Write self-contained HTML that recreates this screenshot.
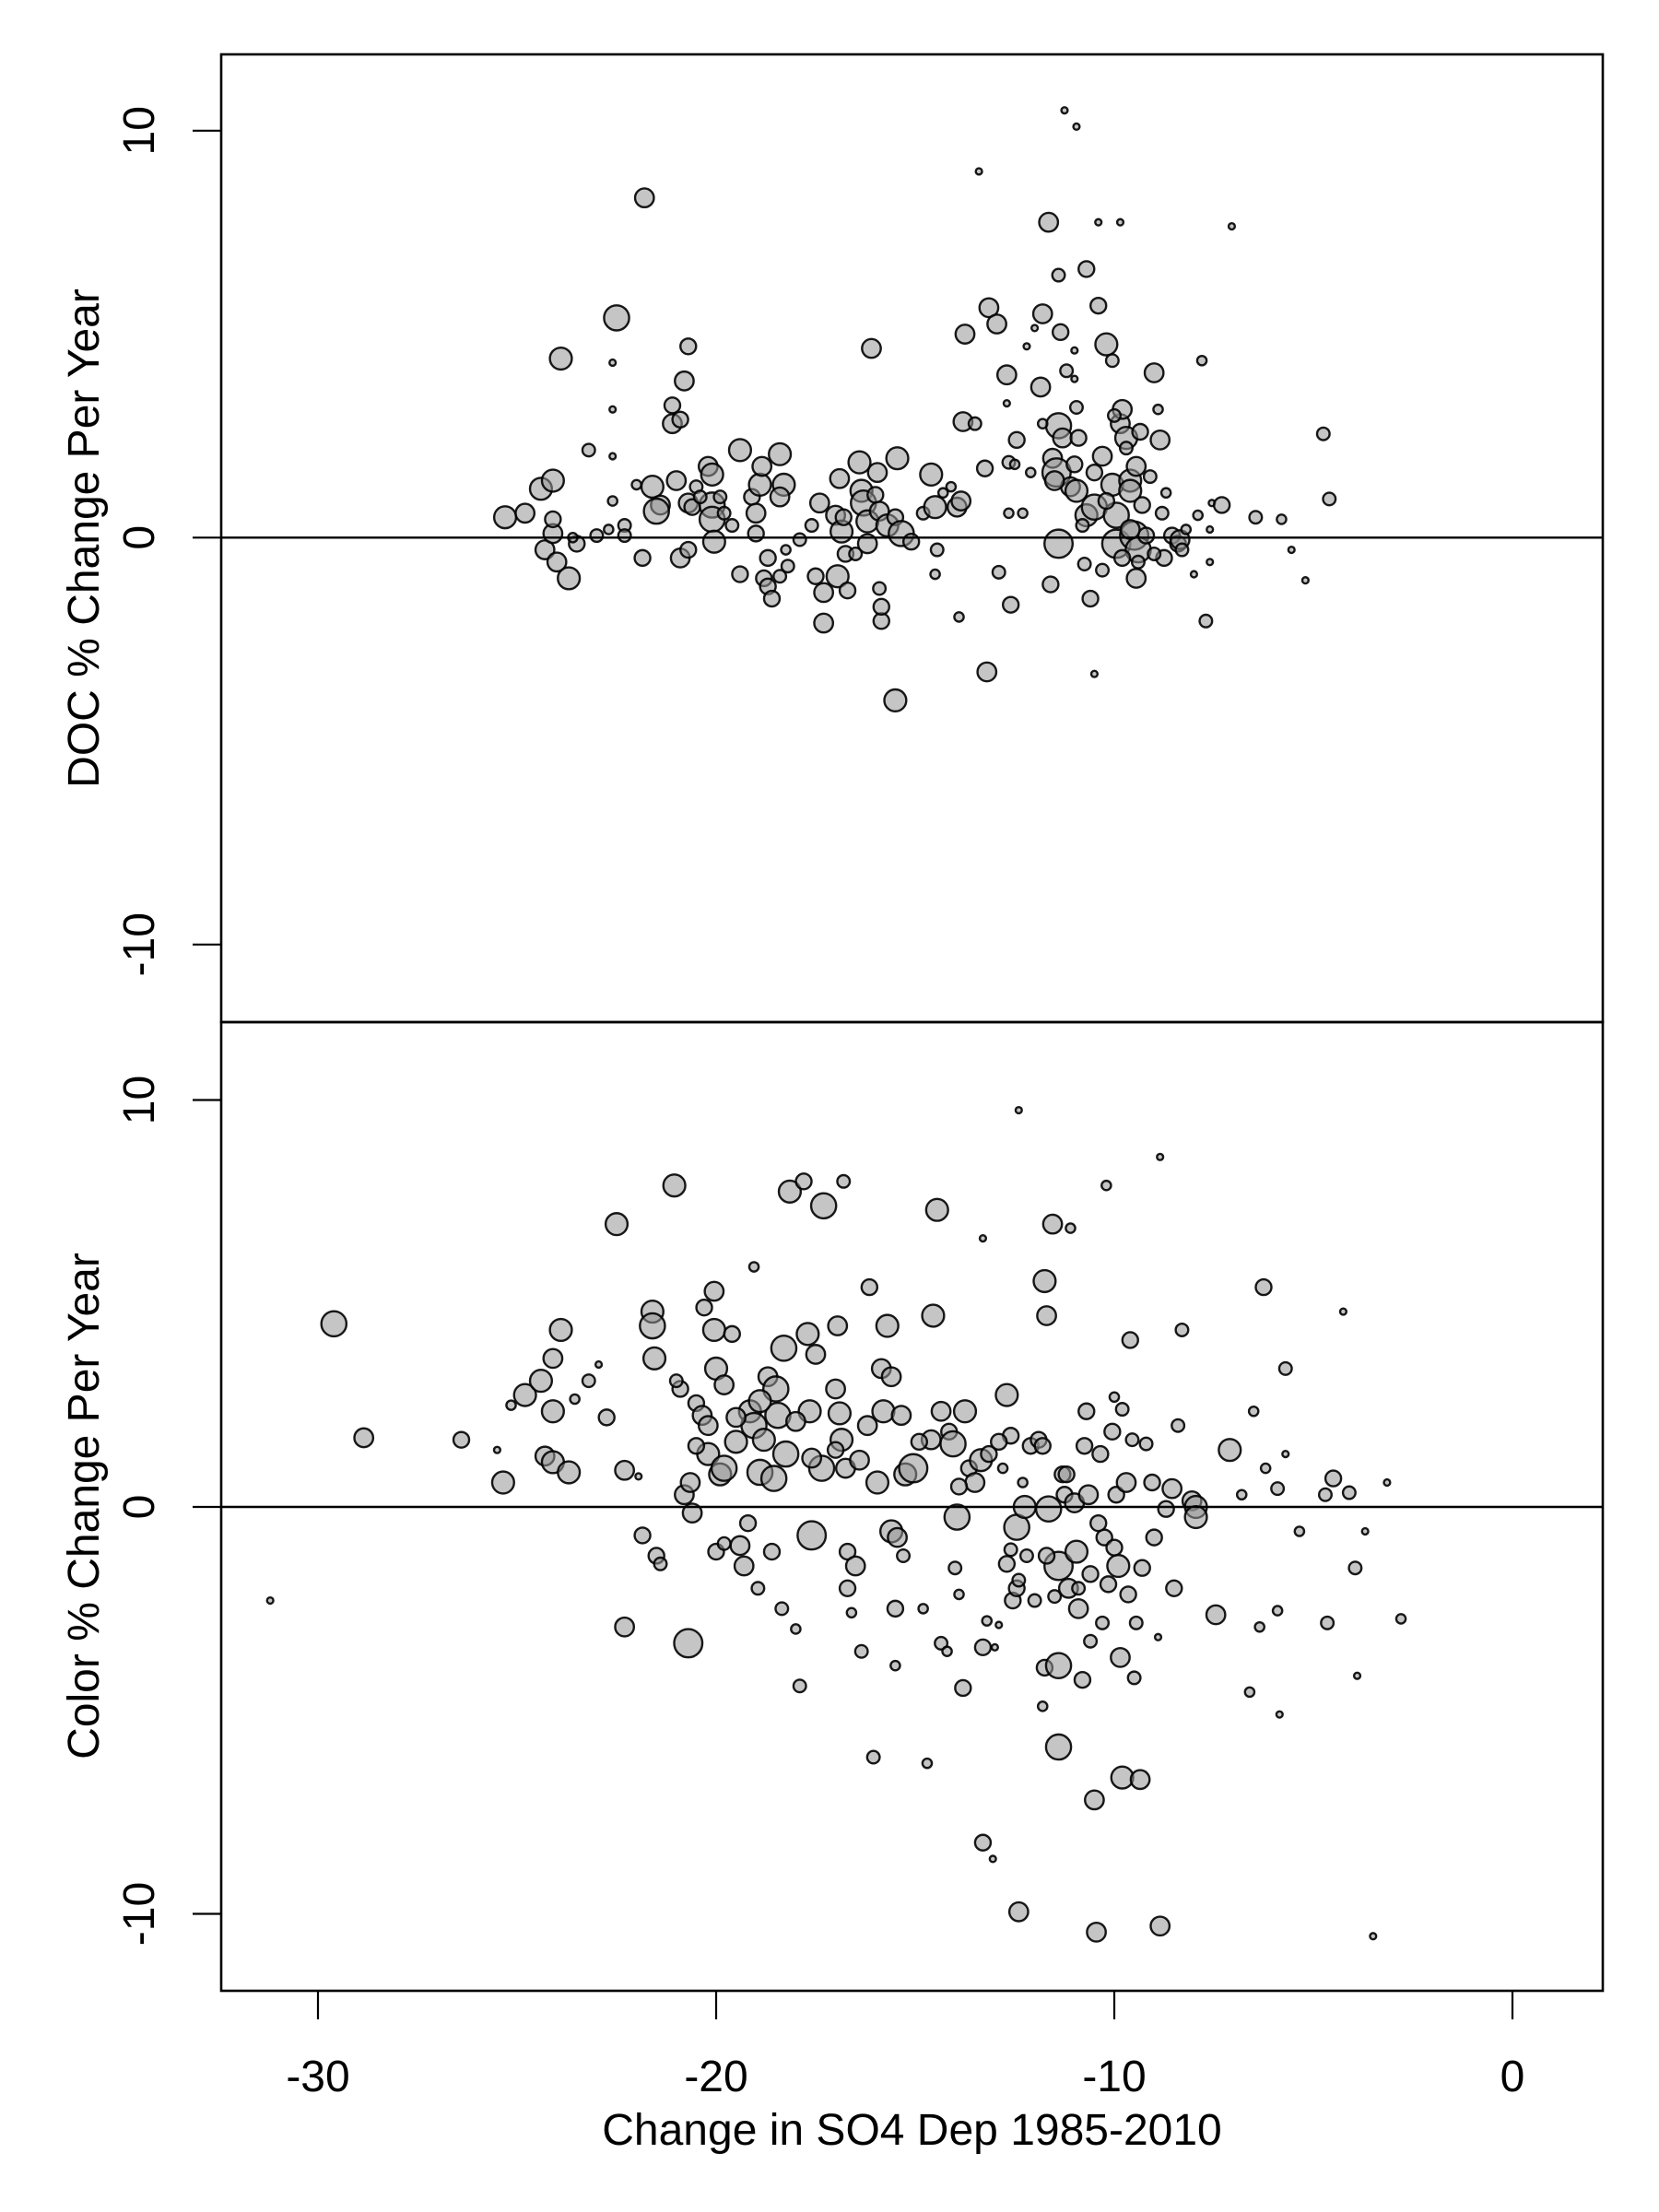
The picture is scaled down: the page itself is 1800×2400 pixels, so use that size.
<!DOCTYPE html>
<html><head><meta charset="utf-8"><title>DOC and Color change vs SO4 deposition change</title>
<style>
html,body{margin:0;padding:0;background:#fff;}
svg{display:block;font-family:"Liberation Sans",Arial,sans-serif;}
</style></head>
<body>
<svg id="chart" width="1800" height="2400" viewBox="0 0 1800 2400" xmlns="http://www.w3.org/2000/svg">
<rect x="0" y="0" width="1800" height="2400" fill="#fff"/>
<g id="top-points"></g>
<g id="bot-points"></g>
<g id="axes"></g>
</svg>
<script>
// ---- data ----
const xTicks = [-30, -20, -10, 0];
const yTicks = [-10, 0, 10];
const xTitle = "Change in SO4 Dep 1985-2010";
const docTitle = "DOC % Change Per Year";
const colorTitle = "Color % Change Per Year";

const docX = [-25.3,-24.8,-24.4,-24.1,-23.9,-24.3,-24.1,-24.1,-24.0,-23.7,-23.5,-23.2,-23.0,-22.7,-22.6,-22.6,-22.6,-22.6,-22.5,-22.3,-22.3,-21.8,-21.85,-21.6,-21.4,-21.5,-21.1,-21.1,-20.9,-20.8,-20.7,-21.0,-20.7,-20.9,-20.7,-20.6,-20.5,-20.2,-20.1,-20.1,-20.1,-20.05,-19.9,-19.8,-19.4,-19.4,-19.1,-19.0,-19.0,-18.9,-18.85,-18.8,-18.7,-18.7,-18.6,-18.4,-18.3,-18.4,-18.4,-18.2,-18.25,-17.9,-17.5,-17.4,-17.3,-17.3,-17.0,-16.95,-16.9,-16.85,-16.75,-16.7,-16.5,-16.4,-16.35,-16.3,-16.2,-16.2,-16.1,-16.0,-15.95,-15.9,-15.9,-15.85,-15.85,-15.7,-15.5,-15.5,-15.45,-15.35,-15.1,-14.8,-14.6,-14.5,-14.5,-14.45,-14.1,-13.95,-13.9,-13.85,-13.8,-13.75,-13.5,-13.4,-13.25,-13.2,-13.15,-12.95,-12.9,-12.7,-12.65,-12.6,-12.65,-12.45,-12.1,-12.0,-11.8,-11.85,-11.65,-11.6,-11.55,-11.45,-11.4,-11.4,-11.3,-11.4,-11.35,-11.2,-11.1,-10.95,-10.95,-10.9,-10.75,-10.7,-10.7,-10.6,-10.5,-10.5,-10.4,-10.4,-10.3,-10.2,-10.05,-10.05,-9.95,-9.95,-9.85,-9.8,-9.7,-9.6,-9.6,-9.5,-9.45,-9.45,-9.4,-9.35,-9.2,-9.0,-8.9,-8.85,-8.75,-8.55,-8.4,-8.35,-7.9,-7.8,-7.7,-7.55,-7.3,-7.05,-6.45,-5.8,-5.55,-5.2,-4.75,-4.6,-11.25,-10.95,-9.85,
 -9.6,-9.3,-9.8,-10.2,-10.5,-9.1,-8.8,-9.4,-10.8,-11.0,-11.5,-12.3,-8.7,-9.0,-8.3,-10.0,-11.8,-12.5,-10.3,-9.7,-8.2,-8.0,-7.6,-7.6,-12.7,-12.2,-11.0,-11.0,-14.3,-16.8,-17.6,-19.6,-20.4,-22.0,-23.6];
const docY = [0.5,0.6,1.2,1.4,4.4,-0.3,0.1,0.45,-0.6,-1.0,-0.15,2.15,0.05,0.2,4.3,3.15,2.0,0.9,5.4,0.3,0.05,8.35,-0.5,1.25,0.8,0.65,2.8,3.25,2.9,3.85,4.7,1.4,0.85,-0.5,-0.3,0.75,1.25,1.75,1.55,0.8,0.45,-0.1,1.0,0.6,2.15,-0.9,1.0,0.1,0.6,1.3,1.75,-1.0,-0.5,-1.2,-1.5,2.05,1.3,1.0,-0.95,-0.7,-0.3,-0.05,-0.95,0.85,-1.35,-2.1,0.55,-0.95,1.45,0.15,-0.4,-1.3,-0.4,1.85,1.15,0.85,0.4,-0.15,4.65,1.05,1.6,0.65,-1.25,-2.05,-1.7,0.3,0.5,-4.0,1.95,0.1,-0.1,0.6,1.55,0.75,-0.9,-0.3,1.25,0.75,-1.95,0.9,2.85,5.0,2.8,9.0,1.7,-3.3,5.65,5.25,-0.85,4.0,0.6,-1.65,1.85,2.4,1.6,5.15,5.5,3.7,7.75,-1.15,1.95,1.6,-0.15,2.75,2.45,6.45,5.05,4.1,1.25,1.15,3.2,2.45,-0.65,0.55,6.6,-1.5,-3.35,0.75,5.7,7.75,2.0,4.75,4.35,1.3,0.55,-0.15,2.8,3.15,2.45,1.4,1.15,0.05,-1.0,1.75,-0.3,2.6,0.05,4.05,3.15,2.4,-0.5,0.05,-0.15,-0.05,0.55,4.35,-2.05,0.85,0.8,7.65,0.5,0.45,-0.3,-1.05,2.55,0.95,10.5,10.1,7.75,
 0.2,0.8,-0.5,0.9,1.6,1.5,0.6,-0.6,0.3,1.8,1.4,0.6,1.1,-0.4,-0.3,3.0,2.8,1.8,-0.8,2.2,0.2,-0.9,-0.6,0.2,3.3,4.7,3.9,4.6,1.1,0.5,0.3,0.3,1.0,1.3,0.0];
const docSize = [7,6,7,7,7,6,6,5,6,7,5,4,4,3,2,2,2,3,8,4,4,6,5,7,6,8,6,5,5,6,5,6,6,6,5,5,4,6,7,8,8,7,4,4,7,5,5,5,6,7,6,5,5,5,5,7,7,6,4,4,3,4,5,6,6,6,6,7,6,7,5,5,4,7,7,8,7,6,6,5,6,6,4,5,5,7,5,7,7,8,5,4,7,7,3,4,3,6,3,6,6,6,4,2,5,6,6,6,4,6,3,5,4,5,3,2,6,6,6,5,6,9,9,8,6,4,5,4,6,7,4,5,4,7,5,5,2,8,5,2,6,7,4,7,8,9,6,6,7,7,7,9,6,6,8,5,5,6,3,6,5,5,5,6,3,3,4,2,5,2,4,3,2,2,4,4,2,2,2,
 6,5,5,5,5,4,4,4,4,5,6,3,3,4,4,4,3,3,4,4,3,2,2,2,2,2,2,2,3,5,4,4,4,3,3];

const colX = [-31.2,-29.6,-28.85,-26.4,-25.5,-25.35,-25.15,-24.8,-24.4,-24.1,-23.9,-24.1,-24.3,-24.1,-23.7,-23.55,-23.2,-22.95,-22.75,-22.5,-22.3,-22.3,-21.95,-21.85,-21.6,-21.6,-21.55,-21.5,-21.4,-21.05,-20.9,-20.7,-20.6,-20.8,-20.65,-20.5,-20.35,-20.3,-20.2,-20.2,-20.05,-20.05,-20.0,-20.0,-19.9,-19.8,-19.6,-19.5,-19.4,-19.3,-19.2,-19.15,-19.05,-18.95,-18.9,-18.8,-18.7,-18.6,-18.55,-18.5,-18.45,-18.35,-18.3,-18.25,-18.15,-17.9,-17.8,-17.7,-17.65,-17.6,-17.5,-17.35,-17.3,-17.0,-16.95,-16.9,-16.85,-16.75,-16.7,-16.7,-16.8,-16.5,-16.4,-16.35,-16.15,-16.05,-15.95,-15.85,-15.8,-15.7,-15.6,-15.5,-15.5,-15.45,-15.35,-15.25,-15.05,-14.8,-14.7,-14.6,-14.55,-14.45,-14.35,-14.35,-14.2,-14.15,-14.05,-13.95,-13.9,-13.8,-13.75,-13.65,-13.5,-13.35,-13.3,-13.3,-13.15,-13.05,-13.0,-12.9,-12.8,-12.7,-12.7,-12.6,-12.6,-12.55,-12.45,-12.45,-12.4,-12.3,-12.25,-12.2,-12.1,-12.0,-11.9,-11.8,-11.8,-11.75,-11.75,-11.7,-11.65,-11.55,-11.5,-11.4,-11.4,-11.4,-11.3,-11.25,-11.15,-11.0,-10.95,-10.9,-10.8,-10.75,-10.7,-10.65,-10.6,-10.5,-10.45,-10.35,-10.3,-10.25,-10.15,-10.05,-9.95,-9.9,-9.85,-9.8,-9.7,-9.65,-9.6,-9.55,-9.45,-9.35,-9.2,-9.05,-9.0,-8.9,-8.85,-8.7,-8.55,-8.5,-8.4,-8.3,-8.05,-7.95,-7.95,-7.45,-7.1,-6.8,-6.6,-6.5,-6.35,-6.2,-6.25,-5.9,-5.9,-5.85,-5.7,-5.7,-5.35,-4.7,-4.65,-4.5,-4.25,-4.1,-3.95,-3.9,-3.7,-3.5,-3.15,-2.8,-12.4,-8.85,-10.2,-11.1,-13.3,-19.05,
 -19.5,-18.9,-19.8,-18.0,-17.6,-17.0,-16.2,-15.6,-14.9,-13.9,-12.9,-11.2,-10.4,-10.0,-9.3,-11.7,-12.4,-10.9,-9.8,-10.0,-9.5,-10.6,-13.2,-14.0,-15.3,-16.6,-18.0,-19.8,-21.0,-20.5];
const colY = [-2.3,4.5,1.7,1.65,1.4,0.6,2.5,2.75,3.1,3.65,4.35,2.35,1.25,1.1,0.85,2.65,3.1,3.5,2.2,6.95,0.9,-2.95,0.75,-0.7,4.8,4.45,3.65,-1.2,-1.4,7.9,2.9,-3.35,-0.15,0.3,0.6,2.55,2.25,4.9,2.0,1.3,4.35,5.3,3.4,-1.1,0.8,0.95,4.25,1.6,-0.95,-1.45,-0.4,2.35,2.0,-2.0,0.85,1.65,3.2,-1.1,0.7,2.9,2.25,-2.5,3.9,1.3,7.75,-4.4,8.0,4.25,2.35,-0.7,3.75,0.95,7.4,2.9,4.45,2.3,1.65,0.95,-2.0,-1.1,8.0,-1.45,1.15,-3.55,5.4,-6.15,0.6,3.4,2.35,4.45,-0.6,-2.5,-3.9,-0.75,2.25,0.8,0.95,-2.5,-6.3,1.65,4.7,7.3,-3.35,2.35,-3.55,1.85,1.55,-0.25,-2.15,-4.45,2.35,0.95,0.6,1.15,-3.45,-8.25,1.3,-8.65,-3.45,-2.9,0.95,2.75,-1.4,-1.05,1.75,-2.3,-2.0,-0.5,-9.95,0.6,0.0,-1.2,1.5,-2.3,1.65,1.5,-4.9,-3.95,5.55,4.7,-0.05,6.95,-2.2,-3.9,-5.9,-1.45,0.8,0.3,-2.0,0.1,-1.1,-2.5,-4.25,1.5,2.35,0.3,-1.65,-7.2,-10.45,1.3,-2.85,-0.75,-1.9,1.85,0.3,-1.45,-3.7,-6.65,0.6,-2.15,4.1,1.65,-2.85,-6.7,1.55,0.6,-0.75,-3.2,-10.3,-0.05,0.45,-2.0,2.0,4.35,0.15,0.0,-0.25,-2.65,1.4,0.3,-4.55,2.35,-2.95,0.95,5.4,0.45,-2.55,-5.1,1.3,3.4,-0.6,0.3,-2.85,0.7,4.8,0.35,-1.5,-4.15,-0.6,-10.55,0.6,-2.75,9.75,8.6,7.9,6.85,6.6,5.9,
 2.2,2.6,3.0,2.1,1.2,1.4,2.0,3.2,1.6,0.5,1.6,0.8,-0.4,-1.0,-1.5,-1.2,-1.8,-2.0,2.4,2.7,-4.2,-3.3,-2.8,-1.5,-1.2,-2.6,-3.0,-0.9,3.1,1.5];
const colSize = [2,8,6,5,2,7,3,7,7,6,7,7,6,7,7,3,4,2,5,7,6,6,2,5,7,8,7,5,4,7,5,9,6,6,6,5,6,5,6,7,7,6,7,5,7,8,5,7,6,6,5,7,8,4,8,7,6,5,8,8,8,4,8,8,7,4,5,7,7,9,6,8,8,6,6,7,7,6,5,5,4,6,6,4,5,4,7,6,7,7,7,5,3,6,6,7,9,3,3,6,7,7,4,6,3,5,8,8,3,5,7,5,6,7,5,5,5,2,2,2,3,7,5,4,5,5,5,8,6,3,7,4,5,4,5,5,3,5,7,6,8,6,4,8,8,9,5,5,6,6,7,6,5,5,5,6,5,6,6,5,4,5,5,5,5,7,6,7,6,5,5,4,4,6,4,5,5,2,6,5,6,5,4,4,6,7,7,6,7,3,3,3,3,3,5,4,3,2,2,4,3,4,4,5,2,4,4,2,2,2,2,3,2,2,3,3,2,3,
 6,7,6,6,6,5,6,6,5,5,5,5,5,5,5,5,4,4,4,3,4,4,3,4,4,3,3,4,4,5];

// ---- layout ----
const NS = "http://www.w3.org/2000/svg";
const plotL = 240, plotR = 1739;
const topT = 59, topB = 1109, botT = 1109, botB = 2160;
function xScale(v){ return 1641 + v * 43.2; }
function yTop(v){ return 583.3 - v * 44.15; }
function yBot(v){ return 1635 - v * 44.15; }
const R_SCALE = 1.7;

function mk(tag, attrs, parent){
  const e = document.createElementNS(NS, tag);
  for (const k in attrs) e.setAttribute(k, attrs[k]);
  parent.appendChild(e);
  return e;
}

function drawPoints(gid, xs, ys, ss, yf, name){
  const g = document.getElementById(gid);
  for (let i = 0; i < xs.length; i++){
    const c = mk('circle', {cx: xScale(xs[i]), cy: yf(ys[i]), r: ss[i]*R_SCALE,
      fill: 'rgba(150,150,150,0.55)', stroke: 'rgba(0,0,0,0.9)', 'stroke-width': 2.4}, g);
    
    
  }
}
drawPoints('top-points', docX, docY, docSize, yTop, 'doc-point');
drawPoints('bot-points', colX, colY, colSize, yBot, 'color-point');

const ax = document.getElementById('axes');
// zero lines
let zl = mk('line', {x1: plotL, x2: plotR, y1: yTop(0), y2: yTop(0), stroke: '#000', 'stroke-width': 2.4}, ax);


zl = mk('line', {x1: plotL, x2: plotR, y1: yBot(0), y2: yBot(0), stroke: '#000', 'stroke-width': 2.4}, ax);



// frames
let fr = mk('rect', {x: plotL, y: topT, width: plotR-plotL, height: topB-topT, fill: 'none', stroke: '#000', 'stroke-width': 2.6}, ax);


fr = mk('rect', {x: plotL, y: botT, width: plotR-plotL, height: botB-botT, fill: 'none', stroke: '#000', 'stroke-width': 2.6}, ax);



// y ticks
function yAxis(yf, prefix){
  yTicks.forEach(t => {
    const y = yf(t);
    const tk = mk('line', {x1: 209, x2: plotL, y1: y, y2: y, stroke: '#000', 'stroke-width': 2.2}, ax);
    
    
    const tx = mk('text', {x: 0, y: 0, 'font-size': 48, 'text-anchor': 'middle',
      transform: 'translate(167,' + y + ') rotate(-90)'}, ax);
    tx.textContent = String(t);
    
    
  });
}
yAxis(yTop, 'doc');
yAxis(yBot, 'color');

// x ticks
xTicks.forEach(t => {
  const x = xScale(t);
  const tk = mk('line', {x1: x, x2: x, y1: botB, y2: botB + 31, stroke: '#000', 'stroke-width': 2.2}, ax);
  
  
  const tx = mk('text', {x: x, y: 2269, 'font-size': 48, 'text-anchor': 'middle'}, ax);
  tx.textContent = String(t);
  
  
});

// titles
let tt = mk('text', {x: (plotL+plotR)/2, y: 2327, 'font-size': 48, 'text-anchor': 'middle'}, ax);
tt.textContent = xTitle;


tt = mk('text', {x: 0, y: 0, 'font-size': 48, 'text-anchor': 'middle', transform: 'translate(107,584) rotate(-90)'}, ax);
tt.textContent = docTitle;


tt = mk('text', {x: 0, y: 0, 'font-size': 48, 'text-anchor': 'middle', transform: 'translate(107,1634) rotate(-90)'}, ax);
tt.textContent = colorTitle;


</script>
</body></html>
